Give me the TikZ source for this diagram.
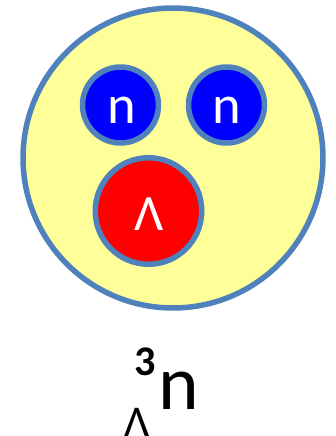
\documentclass[tikz,border=0pt]{standalone}
\usepackage{fontspec}
\setmainfont{Carlito}
\definecolor{ringblue}{HTML}{4F81BD}
\definecolor{nucleus}{HTML}{FFFF99}
\begin{document}
\begin{tikzpicture}[x=0.02cm, y=-0.02cm, every node/.style={inner sep=0pt}]
  \tikzstyle{ball}=[draw=ringblue,circle,line width=0.11cm]
  \tikzstyle{lbl}=[anchor=base,text=white]
  \useasboundingbox (0,0) rectangle (335,436);
  % nucleus and its three baryons
  \node[ball,fill=nucleus,minimum size=6.0cm] (core) at (173,158) {};
  \node[ball,fill=blue,minimum size=1.52cm] (n1) at (120.5,105) {};
  \node[ball,fill=blue,minimum size=1.52cm] (n2) at (226.5,105) {};
  \node[ball,fill=red,minimum size=2.13cm] (lam) at (148.5,211) {};
  \node[lbl,font=\fontsize{31}{31}\selectfont] (tn1) at (121.5,123) {n};
  \node[lbl,font=\fontsize{31}{31}\selectfont] (tn2) at (227,123) {n};
  \node[lbl,font=\fontsize{29}{29}\selectfont] (tlam) at (148.7,230) {Λ};
  % symbol below
  \node[anchor=base,font=\fontsize{24}{24}\selectfont\bfseries] (mass) at (145,375) {3};
  \node[anchor=base,font=\fontsize{44}{44}\selectfont] (sym) at (179,409) {n};
  \node[anchor=base,font=\fontsize{25}{25}\selectfont] (hyp) at (137,436) {Λ};
\end{tikzpicture}
\end{document}
